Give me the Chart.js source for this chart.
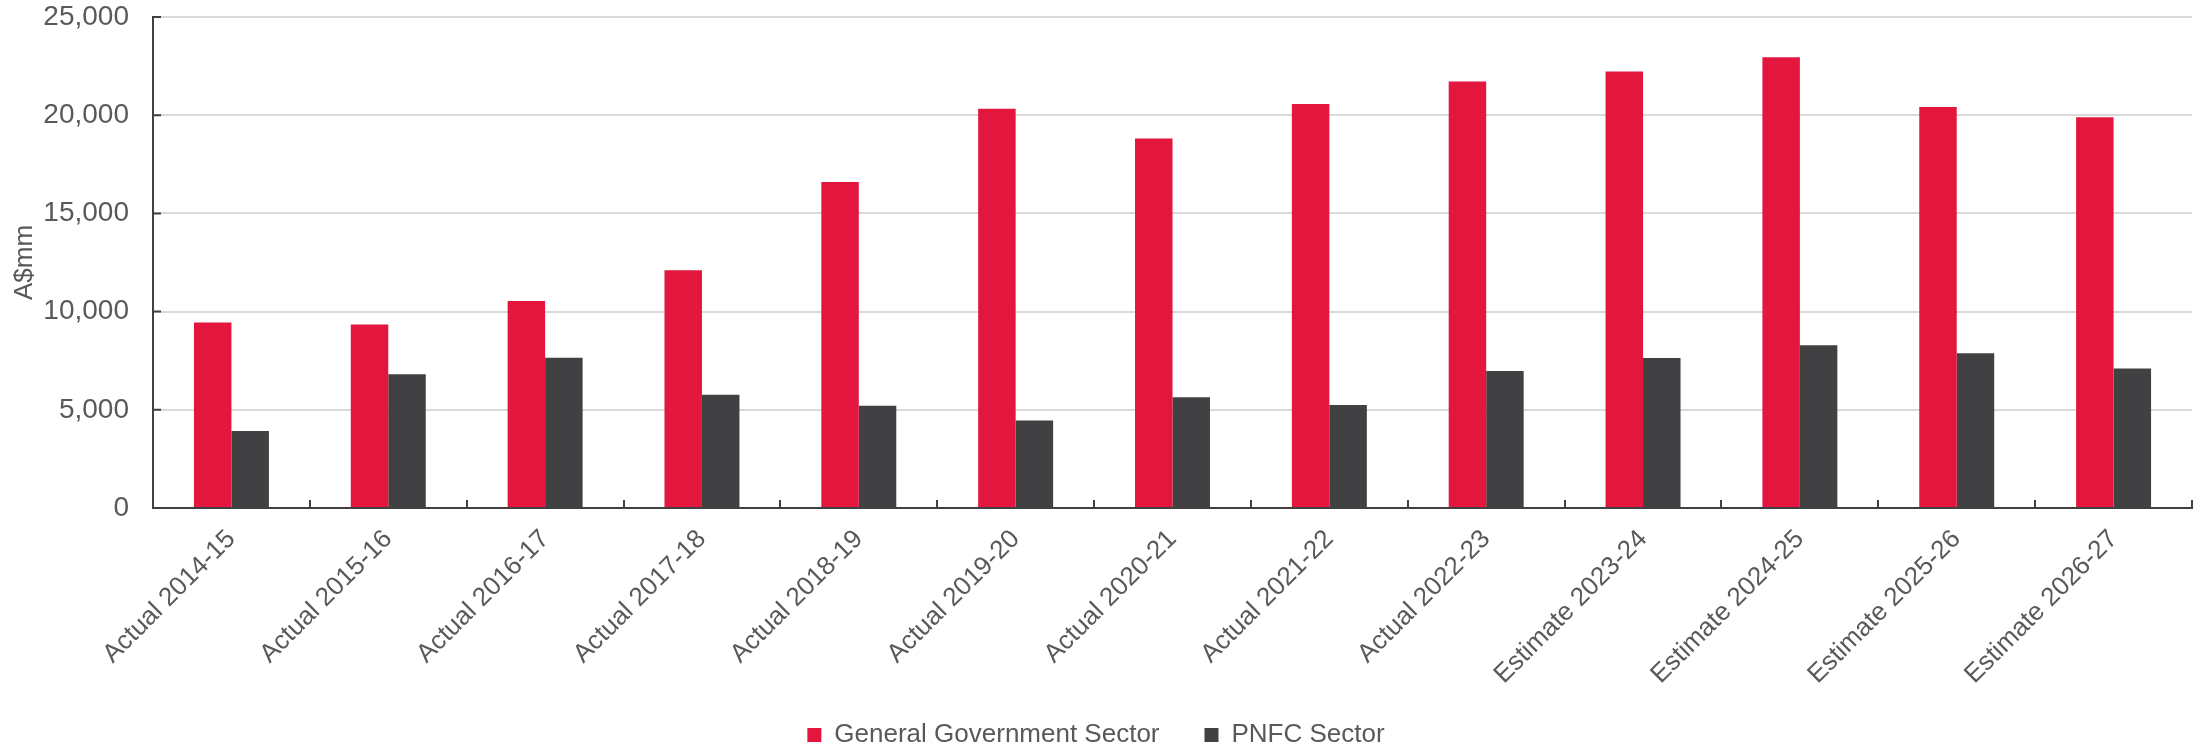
<!DOCTYPE html>
<html lang="en">
<head>
  <meta charset="UTF-8">
  <meta name="viewport" content="width=device-width, initial-scale=1.0">
  <title>Sector Chart</title>
  <script src="https://cdn.jsdelivr.net/npm/chart.js"></script>
  <style>
    html, body {
      margin: 0;
      padding: 0;
      background: #ffffff;
    }

    .chart-box {
      width: 2201px;
      height: 747px;
    }
  </style>
</head>
<body>
  <div class="chart-box">
    <canvas id="sectorChart"></canvas>
  </div>

  <script>
    // Financial years on the x axis
    var years = ['Actual 2014-15', 'Actual 2015-16', 'Actual 2016-17', 'Actual 2017-18',
      'Actual 2018-19', 'Actual 2019-20', 'Actual 2020-21', 'Actual 2021-22',
      'Actual 2022-23', 'Estimate 2023-24', 'Estimate 2024-25', 'Estimate 2025-26',
      'Estimate 2026-27'];

    // A$mm per sector
    var generalGovernment = [9450, 9345, 10535, 12105, 16605, 20325, 18810, 20565, 21720, 22220, 22945, 20415, 19895];
    var pnfcSector = [3915, 6810, 7655, 5760, 5205, 4450, 5640, 5240, 6980, 7635, 8290, 7880, 7105];

    // y axis tick values
    var yTicks = [0, 5000, 10000, 15000, 20000, 25000];

    var textGrey = '#595959';
    var axisGrey = '#404040';

    Chart.defaults.font.family = '"Liberation Sans", Arial, sans-serif';
    Chart.defaults.color = textGrey;

    // Short inside tick marks on both axes, plus the x axis line over the bar bases
    var axisTicks = {
      id: 'axisTicks',
      afterDatasetsDraw: function(chart) {
        var ctx = chart.ctx;
        var area = chart.chartArea;
        var x = chart.scales.x;
        var y = chart.scales.y;
        var half = (x.getPixelForValue(1) - x.getPixelForValue(0)) / 2;

        ctx.save();
        ctx.strokeStyle = axisGrey;
        ctx.lineWidth = 2;
        ctx.beginPath();
        ctx.moveTo(area.left, area.bottom);
        ctx.lineTo(area.right, area.bottom);
        for (var i = 0; i <= years.length; i++) {
          var px = Math.round(x.getPixelForValue(i) - half);
          ctx.moveTo(px, area.bottom);
          ctx.lineTo(px, area.bottom - 8);
        }
        yTicks.forEach(function(v) {
          var py = y.getPixelForValue(v);
          ctx.moveTo(area.left, py);
          ctx.lineTo(area.left + 8, py);
        });
        ctx.stroke();
        ctx.restore();
      }
    };

    // Push the legend row down close to the bottom edge
    var legendDrop = {
      id: 'legendDrop',
      afterLayout: function(chart) {
        var lg = chart.legend;
        var pad = lg.options.labels.padding;
        var centre = lg.top + pad + 13;
        var shift = 735 - centre;
        lg.top += shift;
        lg.bottom += shift;
      }
    };

    var ctx = document.getElementById('sectorChart').getContext('2d');
    var sectorChart = new Chart(ctx, {
      type: 'bar',
      data: {
        labels: years,
        datasets: [{
          label: 'General Government Sector',
          data: generalGovernment,
          backgroundColor: '#E3173E',
          categoryPercentage: 0.478,
          barPercentage: 1.0
        }, {
          label: 'PNFC Sector',
          data: pnfcSector,
          backgroundColor: '#414042',
          categoryPercentage: 0.478,
          barPercentage: 1.0
        }]
      },
      options: {
        responsive: true,
        maintainAspectRatio: false,
        animation: false,
        layout: {
          padding: { left: 0, right: 9, top: 17, bottom: -27 }
        },
        plugins: {
          legend: {
            position: 'bottom',
            labels: {
              boxWidth: 14,
              boxHeight: 14,
              padding: 45,
              font: { size: 26 },
              color: textGrey
            }
          },
          tooltip: { enabled: false }
        },
        scales: {
          x: {
            grid: { display: false },
            border: { display: true, color: axisGrey, width: 2 },
            ticks: {
              minRotation: 45,
              maxRotation: 45,
              autoSkip: false,
              padding: 8,
              font: { size: 26 },
              color: textGrey
            },
            afterFit: function(scale) {
              scale.height = 185;
            }
          },
          y: {
            min: 0,
            max: 25000,
            afterBuildTicks: function(scale) {
              scale.ticks = yTicks.map(function(v) { return { value: v }; });
            },
            grid: {
              color: '#d9d9d9',
              lineWidth: 2,
              drawTicks: true,
              tickLength: 24,
              tickColor: 'rgba(0,0,0,0)'
            },
            border: { display: true, color: axisGrey, width: 2 },
            ticks: {
              padding: 0,
              font: { size: 28 },
              color: textGrey,
              callback: function(value) {
                return value.toLocaleString('en-US');
              }
            },
            title: {
              display: true,
              text: 'A$mm',
              font: { size: 26 },
              color: textGrey,
              padding: { top: 9, bottom: 0 }
            },
            afterFit: function(scale) {
              scale.width = 153;
            }
          }
        }
      },
      plugins: [axisTicks, legendDrop]
    });
  </script>
</body>
</html>
